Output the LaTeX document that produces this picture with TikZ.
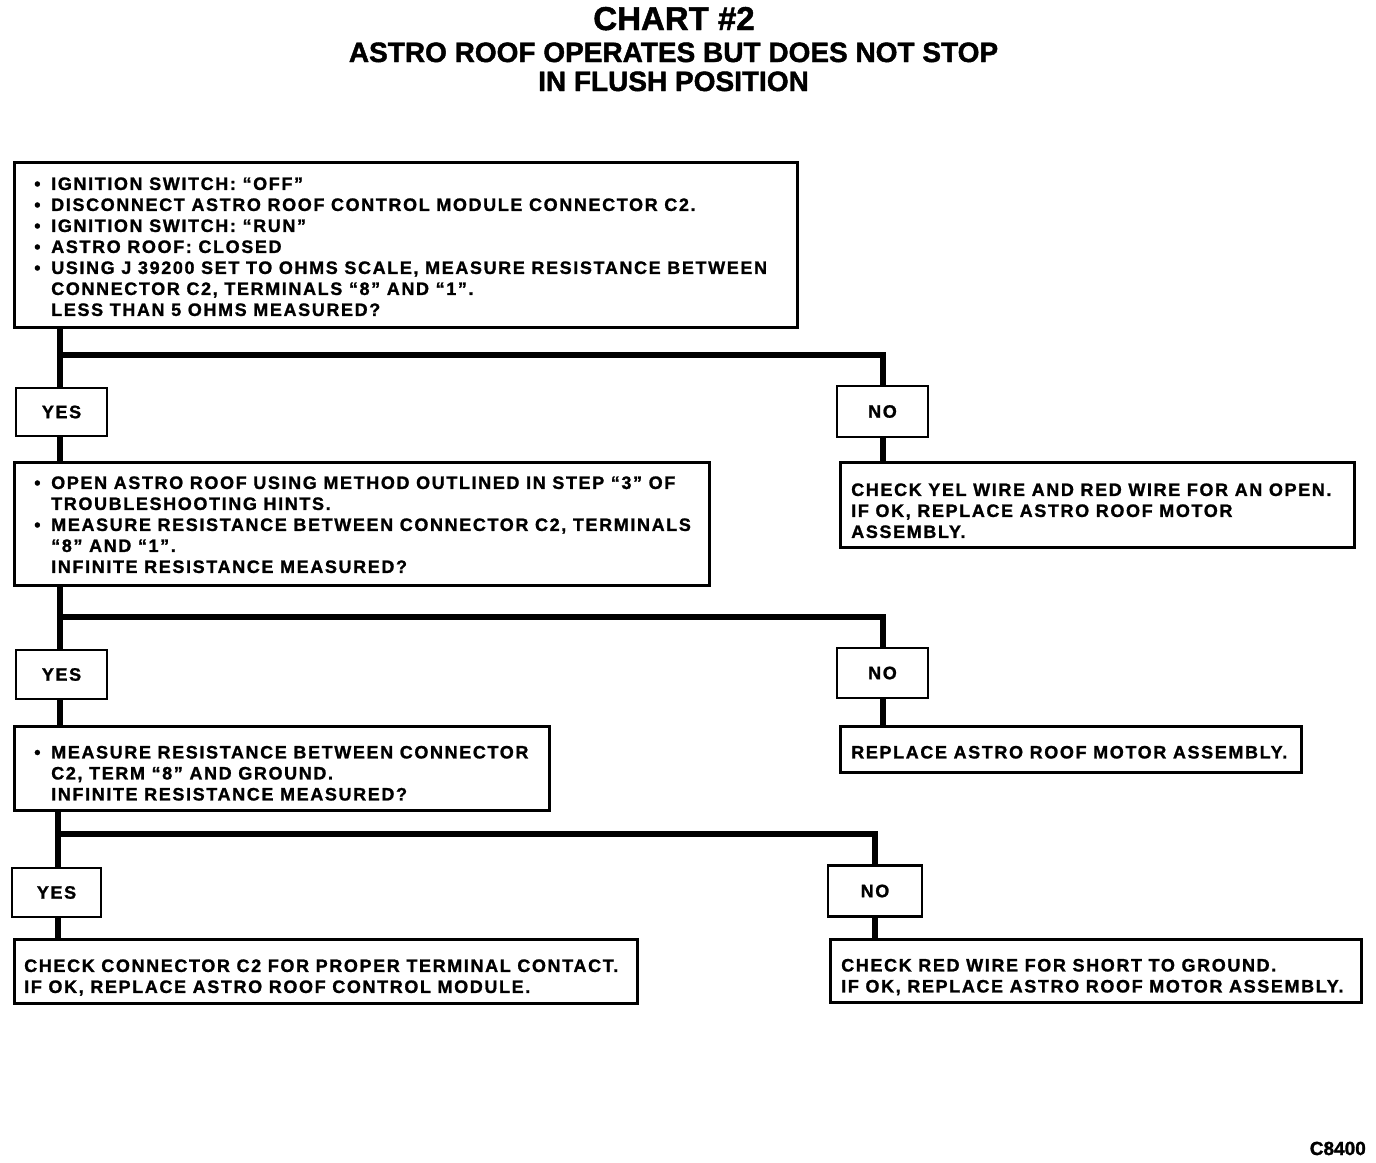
\documentclass[tikz,border=0pt]{standalone}
\usepackage{fontspec}
\setmainfont{Liberation Sans}
\newfontfamily\bodyfont[LetterSpace=9,FakeBold=1.2]{Liberation Sans Bold}
\newfontfamily\titlefont[FakeBold=1.5]{Liberation Sans Bold}
\newcommand\bt[3]{\raisebox{#3}[\height][\depth]{\makebox[#1][l]{\begin{tabular}{@{}l@{}}#2\end{tabular}}}}
\newcommand\bul{\makebox[17pt][l]{\textbullet}}
\newcommand\hang{\hspace*{17pt}}
\begin{document}
\begin{tikzpicture}[x=1pt,y=-1pt,
  box/.style={draw=black,line width=2.5pt,fill=white,rectangle,anchor=north west,inner ysep=0pt,
    font=\bodyfont\fontsize{18}{21}\selectfont},
  yn/.style={draw=black,line width=2.5pt,fill=white,rectangle,inner sep=0pt,
    font=\bodyfont\fontsize{18}{21}\selectfont},
  conn/.style={line width=6pt,line cap=butt,line join=miter},
  ttl/.style={font=\titlefont,inner sep=0pt,anchor=base}]
\useasboundingbox (0,0) rectangle (1376,1162);

% title
\node[ttl] (t1) at (674,30) {\fontsize{33}{36}\selectfont CHART \#2};
\node[ttl] (t2) at (673.5,62) {\fontsize{28}{32}\selectfont ASTRO ROOF OPERATES BUT DOES NOT STOP};
\node[ttl] (t3) at (673.5,91) {\fontsize{28}{32}\selectfont IN FLUSH POSITION};

% row 1
\node[box,minimum width=783pt,minimum height=165pt,inner xsep=20pt] (b1) at (13,161)
 {\bt{743pt}{\bul IGNITION SWITCH: “OFF”\\
 \bul DISCONNECT ASTRO ROOF CONTROL MODULE CONNECTOR C2.\\
 \bul IGNITION SWITCH: “RUN”\\
 \bul ASTRO ROOF: CLOSED\\
 \bul USING J 39200 SET TO OHMS SCALE, MEASURE RESISTANCE BETWEEN\\
 \hang CONNECTOR C2, TERMINALS “8” AND “1”.\\
 \hang LESS THAN 5 OHMS MEASURED?}{-4pt}};

\node[yn,minimum width=91pt,minimum height=48pt] (y1) at (61.5,412) {YES};
\node[yn,minimum width=91pt,minimum height=51pt] (n1) at (882.5,411.5) {NO};

\node[box,minimum width=695pt,minimum height=123pt,inner xsep=20pt] (b2) at (13,461)
 {\bt{655pt}{\bul OPEN ASTRO ROOF USING METHOD OUTLINED IN STEP “3” OF\\
 \hang TROUBLESHOOTING HINTS.\\
 \bul MEASURE RESISTANCE BETWEEN CONNECTOR C2, TERMINALS\\
 \hang “8” AND “1”.\\
 \hang INFINITE RESISTANCE MEASURED?}{-3pt}};

\node[box,minimum width=514pt,minimum height=85pt,inner xsep=11pt] (r1) at (839,461)
 {\bt{492pt}{CHECK YEL WIRE AND RED WIRE FOR AN OPEN.\\
 IF OK, REPLACE ASTRO ROOF MOTOR\\
 ASSEMBLY.}{-8pt}};

% row 2
\node[yn,minimum width=91pt,minimum height=49pt] (y2) at (61.5,674.5) {YES};
\node[yn,minimum width=91pt,minimum height=50pt] (n2) at (882.5,673) {NO};

\node[box,minimum width=535pt,minimum height=84pt,inner xsep=20pt] (b3) at (13,725)
 {\bt{495pt}{\bul MEASURE RESISTANCE BETWEEN CONNECTOR\\
 \hang C2, TERM “8” AND GROUND.\\
 \hang INFINITE RESISTANCE MEASURED?}{-7pt}};

\node[box,minimum width=461pt,minimum height=46pt,inner xsep=11pt] (r2) at (839,725)
 {\bt{439pt}{REPLACE ASTRO ROOF MOTOR ASSEMBLY.}{-5pt}};

% row 3
\node[yn,minimum width=89pt,minimum height=49pt] (y3) at (56.5,892.5) {YES};
\node[yn,minimum width=94pt,minimum height=51pt] (n3) at (875,891) {NO};

\node[box,minimum width=623pt,minimum height=64pt,inner xsep=10pt] (b4) at (13,938)
 {\bt{603pt}{CHECK CONNECTOR C2 FOR PROPER TERMINAL CONTACT.\\
 IF OK, REPLACE ASTRO ROOF CONTROL MODULE.}{-7pt}};

\node[box,minimum width=531pt,minimum height=63pt,inner xsep=11pt] (r3) at (829,938)
 {\bt{509pt}{CHECK RED WIRE FOR SHORT TO GROUND.\\
 IF OK, REPLACE ASTRO ROOF MOTOR ASSEMBLY.}{-7pt}};

\node[font=\titlefont\fontsize{19}{22}\selectfont,anchor=base east,inner sep=0pt] (code) at (1366,1155) {C8400};

% connectors
\coordinate (j1) at (60,355);
\coordinate (j2) at (60,617);
\coordinate (j3) at (58,834);
\draw[conn] (b1.south -| j1) -- (j1 |- y1.north);
\draw[conn] (j1) -| (n1.north);
\draw[conn] (j1 |- y1.south) -- (j1 |- b2.north);
\draw[conn] (n1.south) -- (n1.south |- r1.north);

\draw[conn] (b2.south -| j2) -- (j2 |- y2.north);
\draw[conn] (j2) -| (n2.north);
\draw[conn] (j2 |- y2.south) -- (j2 |- b3.north);
\draw[conn] (n2.south) -- (n2.south |- r2.north);

\draw[conn] (b3.south -| j3) -- (j3 |- y3.north);
\draw[conn] (j3) -| (n3.north);
\draw[conn] (j3 |- y3.south) -- (j3 |- b4.north);
\draw[conn] (n3.south) -- (n3.south |- r3.north);
\end{tikzpicture}
\end{document}
